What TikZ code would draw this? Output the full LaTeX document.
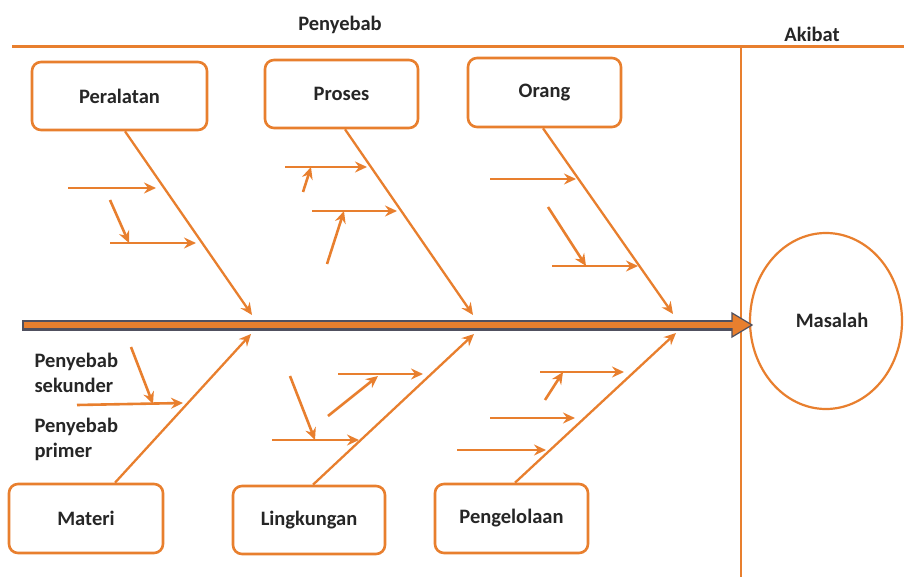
\documentclass[tikz,border=0pt]{standalone}
\usepackage{fontspec}
\setmainfont{Carlito}
\usetikzlibrary{arrows.meta,calc,shapes.geometric}
\definecolor{fishorange}{RGB}{232,127,46}
\definecolor{spinegray}{RGB}{80,80,95}
\tikzset{
  cat/.style={draw=fishorange, line width=2.6pt, rounded corners=9pt, fill=white,
    font=\bfseries\fontsize{20.5}{25}\selectfont, text=black!85},
  bone/.style={draw=fishorange, line width=2.3pt, -{Stealth[length=12pt,width=11pt,inset=4pt]}},
  sub/.style={draw=fishorange, line width=2.6pt, -{Stealth[length=12pt,width=11pt,inset=4pt]}},
  lbl/.style={font=\bfseries\fontsize{20.5}{25}\selectfont, text=black!85},
  frame/.style={draw=fishorange, line width=3pt}
}
\begin{document}
\begin{tikzpicture}[x=1pt,y=-1pt]
\useasboundingbox (0,0) rectangle (904,577);
\begin{scope}
\clip (0,0) rectangle (904,577);

% header line and divider
\coordinate (hl) at (12,47);
\coordinate (hr) at (904,47);
\coordinate (vt) at (741,47);
\coordinate (vb) at (741,577);
\draw[frame] (hl) -- (hr);
\draw[frame, line width=2.6pt] (vt) -- (vb);
\node[lbl] (penyebab) at (340,25) {Penyebab};
\node[lbl] (akibat) at (812,34) {Akibat};

% effect
\node[draw=fishorange, line width=2.2pt, ellipse, minimum width=152pt, minimum height=176pt,
      inner sep=0pt, fill=white] (masalah) at (826,321) {};
\node[lbl] (masalahtxt) at (832,320) {Masalah};

% spine
\coordinate (sl) at (22,325);
\coordinate (sr) at (735,325);
\draw[spinegray, line width=11pt] (sl) -- (sr);
\draw[fishorange, line width=6pt] ($(sl)+(1.5,0)$) -- (sr);
\draw[spinegray, line width=1.2pt, fill=fishorange, line join=miter]
  (732,313) -- (752,325) -- (732,337) -- cycle;
\fill[fishorange] (728,322) rectangle (736,328);

% category boxes
\node[cat, minimum width=175pt, minimum height=68pt] (peralatan) at (119.5,96) {Peralatan};
\node[cat, minimum width=153pt, minimum height=68pt] (proses) at (341.5,94) {Proses};
\node[cat, minimum width=153pt, minimum height=69pt] (orang) at (544.5,92.5) {Orang};
\node[cat, minimum width=154pt, minimum height=69pt] (materi) at (86,518.5) {Materi};
\node[cat, minimum width=152pt, minimum height=68pt] (lingkungan) at (309,520) {Lingkungan};
\node[cat, minimum width=153pt, minimum height=69pt] (pengelolaan) at (511.5,518.5) {Pengelolaan};

% junctions on the spine
\coordinate (j1) at (252,315);
\coordinate (j2) at (473,315);
\coordinate (j3) at (673,314);
\coordinate (k1) at (251,334);
\coordinate (k2) at (474,334);
\coordinate (k3) at (676,333);

% main bones
\draw[bone] ($(peralatan.south)+(5.5,0)$) -- (j1);
\draw[bone] ($(proses.south)+(3.5,0)$) -- (j2);
\draw[bone] ($(orang.south)+(-1.5,0)$) -- (j3);
\draw[bone] ($(materi.north)+(29,0)$) -- (k1);
\draw[bone] ($(lingkungan.north)+(4,0)$) -- (k2);
\draw[bone] ($(pengelolaan.north)+(3.5,0)$) -- (k3);

% causes: Peralatan
\draw[sub] (68,188) -- (156,188);
\draw[sub] (110,243) -- (196,243);
\draw[sub] (110,200) -- (129,243);

% causes: Proses
\draw[sub] (285,167) -- (367,167);
\draw[sub] (303,192) -- (311,167);
\draw[sub] (312,211) -- (397,211);
\draw[sub] (327,264) -- (344,211);

% causes: Orang
\draw[sub] (490,179) -- (576,179);
\draw[sub] (548,207) -- (586,266);
\draw[sub] (552,266) -- (638,266);

% causes: Materi
\draw[sub] (77,405) -- (183,403);
\draw[sub] (131,347) -- (153,404);
\node[lbl, anchor=west, align=left] (sekunder) at (31,373) {Penyebab\\sekunder};
\node[lbl, anchor=west, align=left] (primer) at (31,439) {Penyebab\\primer};

% causes: Lingkungan
\draw[sub] (338,374) -- (423,374);
\draw[sub] (328,416) -- (378,376);
\draw[sub] (272,440) -- (359,440);
\draw[sub] (290,376) -- (315,440);

% causes: Pengelolaan
\draw[sub] (540,372) -- (624,372);
\draw[sub] (545,400) -- (563,372);
\draw[sub] (490,418) -- (575,418);
\draw[sub] (457,450) -- (546,450);
\end{scope}
\end{tikzpicture}
\end{document}
